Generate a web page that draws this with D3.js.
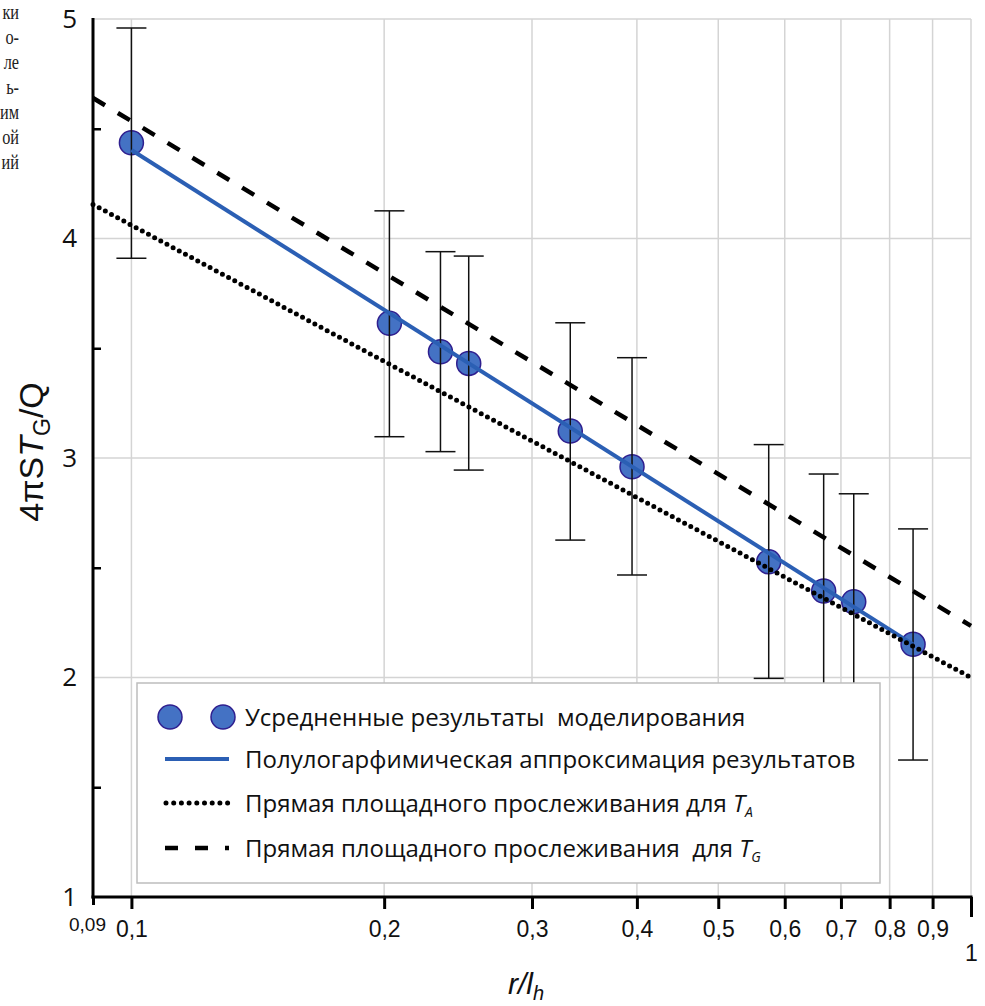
<!DOCTYPE html>
<html><head><meta charset="utf-8">
<script src="https://cdn.jsdelivr.net/npm/d3@7"></script>
<style>body{margin:0;background:#fff} svg{display:block} text{white-space:pre}</style>
</head><body>
<svg id="chart" width="985" height="1006"></svg>
<script>
// ---- data ----
const xValues = [0.1, 0.2029, 0.2334, 0.2522, 0.3332, 0.3947, 0.5742, 0.6676, 0.7250, 0.8531];
const yValues = [4.436, 3.614, 3.484, 3.431, 3.123, 2.960, 2.527, 2.394, 2.345, 2.151];
const errHigh = [4.959, 4.126, 3.940, 3.920, 3.616, 3.457, 3.061, 2.927, 2.837, 2.677];
const errLow  = [3.910, 3.097, 3.029, 2.945, 2.626, 2.467, 1.996, 1.861, 1.852, 1.624];
const fitLine = [[0.1, 4.403], [0.8531, 2.151]];
const lineTA  = [[0.09, 4.155], [1, 2.0]];
const lineTG  = [[0.09, 4.64], [1, 2.235]];
const xTicks = [0.09, 0.1, 0.2, 0.3, 0.4, 0.5, 0.6, 0.7, 0.8, 0.9, 1];
const xTickLabels = ["0,09", "0,1", "0,2", "0,3", "0,4", "0,5", "0,6", "0,7", "0,8", "0,9", "1"];
const xGrid = [0.1, 0.2, 0.3, 0.4, 0.5, 0.6, 0.7, 0.8, 0.9, 1];
const yTicks = [1, 2, 3, 4, 5];
const yGrid = [2, 3, 4, 5];
const yMinorTicks = [1.5, 2.5, 3.5, 4.5];
const legendLabels = ["Усредненные результаты  моделирования",
  "Полулогарфимическая аппроксимация результатов",
  "Прямая площадного прослеживания для ",
  "Прямая площадного прослеживания  для "];
const legendSubs = [null, null, "A", "G"];
const sideText = ["ки", "о-", "ле", "ь-", "им", "ой", "ий"];

// ---- drawing ----
const svg = d3.select("#chart");
const x = d3.scaleLog().domain([0.09, 1]).range([93, 971]);
const y = d3.scaleLinear().domain([1, 5]).range([897, 19]);

const BLUE_LINE = "#2b5fb4", FILL = "#4472c4", MSTROKE = "#2f1f8f";

// side text (tail of a paragraph next to the figure)
svg.append("g").attr("transform", "scale(0.74,1)")
  .selectAll("text").data(sideText).join("text")
  .attr("x", 19 / 0.74).attr("y", (d, i) => 19 + i * 25)
  .attr("text-anchor", "end")
  .attr("font-family", "Liberation Serif").attr("font-size", 22)
  .attr("fill", "#222").text(d => d);

// grid
const grid = svg.append("g").attr("stroke", "#d4d4d4").attr("stroke-width", 1.5);
grid.selectAll("line.v").data(xGrid).join("line").attr("class", "v")
  .attr("x1", d => x(d)).attr("x2", d => x(d)).attr("y1", y(5)).attr("y2", y(1));
grid.selectAll("line.h").data(yGrid).join("line").attr("class", "h")
  .attr("x1", x(0.09)).attr("x2", x(1)).attr("y1", d => y(d)).attr("y2", d => y(d));

// circles
svg.append("g").selectAll("circle").data(xValues).join("circle")
  .attr("cx", d => x(d)).attr("cy", (d, i) => y(yValues[i])).attr("r", 12)
  .attr("fill", FILL).attr("stroke", MSTROKE).attr("stroke-width", 1.5);

// error bars
const eb = svg.append("g").attr("stroke", "#111").attr("stroke-width", 1.5);
xValues.forEach((xv, i) => {
  const cx = x(xv);
  eb.append("line").attr("x1", cx).attr("x2", cx).attr("y1", y(errHigh[i])).attr("y2", y(errLow[i]));
  [errHigh[i], errLow[i]].forEach(v => {
    eb.append("line").attr("x1", cx - 15).attr("x2", cx + 15).attr("y1", y(v)).attr("y2", y(v));
  });
});

const line = d3.line().x(d => x(d[0])).y(d => y(d[1]));
svg.append("path").datum(fitLine).attr("d", line).attr("fill", "none")
  .attr("stroke", BLUE_LINE).attr("stroke-width", 4);
svg.append("path").datum(lineTA).attr("d", line).attr("fill", "none")
  .attr("stroke", "#000").attr("stroke-width", 5).attr("stroke-linecap", "round")
  .attr("stroke-dasharray", "0,7");
svg.append("path").datum(lineTG).attr("d", line).attr("fill", "none")
  .attr("stroke", "#000").attr("stroke-width", 4.5)
  .attr("stroke-dasharray", "14,15");

// legend
const lg = svg.append("g");
lg.append("rect").attr("x", 137).attr("y", 683).attr("width", 743).attr("height", 200)
  .attr("fill", "#fff").attr("stroke", "#bdbdbd").attr("stroke-width", 1.5);
const rowY = [717, 759, 803, 848];
[170, 223].forEach(cx => lg.append("circle").attr("cx", cx).attr("cy", rowY[0]).attr("r", 12)
  .attr("fill", FILL).attr("stroke", MSTROKE).attr("stroke-width", 1.5));
lg.append("line").attr("x1", 165).attr("x2", 229).attr("y1", rowY[1]).attr("y2", rowY[1])
  .attr("stroke", BLUE_LINE).attr("stroke-width", 4);
lg.append("line").attr("x1", 166).attr("x2", 228).attr("y1", rowY[2]).attr("y2", rowY[2])
  .attr("stroke", "#000").attr("stroke-width", 5).attr("stroke-linecap", "round").attr("stroke-dasharray", "0,7.7");
lg.append("line").attr("x1", 165).attr("x2", 229).attr("y1", rowY[3]).attr("y2", rowY[3])
  .attr("stroke", "#000").attr("stroke-width", 4.5).attr("stroke-dasharray", "13,17");
legendLabels.forEach((t, i) => {
  const tx = lg.append("text").attr("x", 245).attr("y", rowY[i] + 9)
    .attr("font-family", "Open Sans").attr("font-size", 24).attr("fill", "#111");
  tx.append("tspan").text(t);
  if (legendSubs[i]) {
    tx.append("tspan").attr("font-style", "italic").text("T");
    tx.append("tspan").attr("font-style", "italic").attr("font-size", 14).attr("dy", 5).text(legendSubs[i]);
  }
});

// axes
const xAxis = d3.axisBottom(x).tickValues(xTicks).tickSize(11)
  .tickFormat((d, i) => xTickLabels[i]);
const gx = svg.append("g").attr("transform", "translate(0,897)").call(xAxis);
gx.select(".domain").remove();
gx.selectAll(".tick line").attr("stroke", "#000").attr("stroke-width", 3)
  .attr("y2", d => d === 1 ? 20 : d === 0.09 ? 8 : 12);
gx.selectAll(".tick text").attr("font-family", "Liberation Sans").attr("fill", "#111")
  .attr("font-size", d => d === 0.09 ? 19 : 23)
  .attr("y", d => d === 1 ? 48 : d === 0.09 ? 21 : 24)
  .attr("dy", "0.71em")
  .attr("x", d => d === 0.09 ? -6 : 0);

const yAxis = d3.axisLeft(y).tickValues(yTicks).tickSize(0).tickPadding(16).tickFormat(d3.format("d"));
const gy = svg.append("g").attr("transform", "translate(93,0)").call(yAxis);
gy.select(".domain").remove();
gy.selectAll(".tick text").attr("font-family", "Open Sans").attr("font-size", 26).attr("fill", "#111");
const yMinor = d3.axisRight(y).tickValues(yMinorTicks).tickSize(8).tickFormat("");
const gym = svg.append("g").attr("transform", "translate(93,0)").call(yMinor);
gym.select(".domain").remove();
gym.selectAll(".tick line").attr("stroke", "#000").attr("stroke-width", 2.5);

svg.append("line").attr("x1", 93).attr("x2", 93).attr("y1", y(5) - 1).attr("y2", y(1) + 1.5)
  .attr("stroke", "#000").attr("stroke-width", 3);
svg.append("line").attr("x1", 91.5).attr("x2", x(1) + 1.5).attr("y1", y(1)).attr("y2", y(1))
  .attr("stroke", "#000").attr("stroke-width", 3);

// axis titles
const yl = svg.append("text").attr("transform", "translate(43,452) rotate(-90)")
  .attr("text-anchor", "middle").attr("font-family", "Liberation Sans").attr("font-size", 34).attr("fill", "#111");
yl.append("tspan").text("4πS");
yl.append("tspan").attr("font-style", "italic").text("T");
yl.append("tspan").attr("font-size", 23).attr("dy", 7).text("G");
yl.append("tspan").attr("dy", -7).text("/Q");

const xl = svg.append("text").attr("x", 508).attr("y", 994)
  .attr("font-family", "Liberation Sans").attr("font-style", "italic").attr("font-size", 30).attr("fill", "#111");
xl.append("tspan").text("r/l");
xl.append("tspan").attr("font-size", 20).attr("dy", 6).text("h");
</script>
</body></html>
